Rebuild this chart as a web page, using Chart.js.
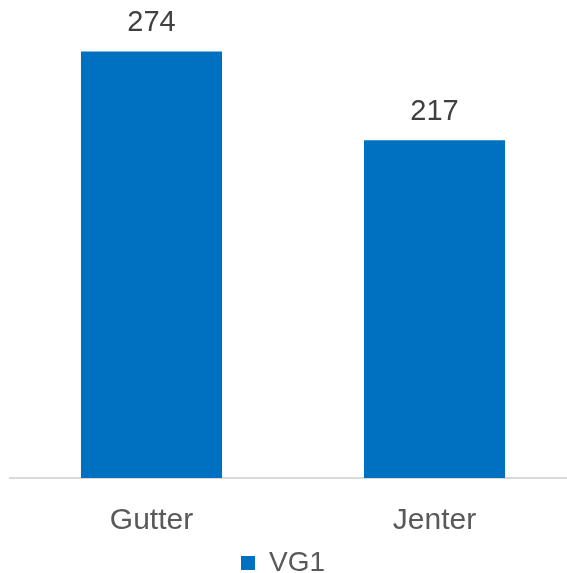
<!DOCTYPE html>
<html>
<head>
<meta charset="utf-8">
<script src="https://cdn.jsdelivr.net/npm/chart.js@4/dist/chart.umd.min.js"></script>
<style>
  html, body { margin: 0; padding: 0; background: #ffffff; overflow: hidden; }
  #wrap { width: 567px; height: 573px; overflow: hidden; position: relative; }
  #box { position: absolute; left: -10px; top: 0; width: 586px; height: 573px; }
</style>
</head>
<body>
<div id="wrap"><div id="box"><canvas id="c"></canvas></div></div>
<script>
const categories = ["Gutter", "Jenter"];
const seriesName = "VG1";
const seriesValues = [274, 217];
const yMax = 300;

const FONT = '"Liberation Sans", Arial, sans-serif';

const valueLabels = {
  id: 'valueLabels',
  afterDatasetsDraw(chart) {
    const ctx = chart.ctx;
    const meta = chart.getDatasetMeta(0);
    ctx.save();
    ctx.font = '29px ' + FONT;
    ctx.fillStyle = '#404040';
    ctx.textAlign = 'center';
    ctx.textBaseline = 'middle';
    meta.data.forEach((bar, i) => {
      ctx.fillText(String(chart.data.datasets[0].data[i]), bar.x, bar.y - 28);
    });
    ctx.restore();
  }
};

new Chart(document.getElementById('c'), {
  type: 'bar',
  data: {
    labels: categories,
    datasets: [{
      label: seriesName,
      data: seriesValues,
      backgroundColor: '#0070C0',
      borderWidth: 0,
      barPercentage: 1,
      categoryPercentage: 0.4985
    }]
  },
  options: {
    responsive: true,
    maintainAspectRatio: false,
    animation: false,
    layout: { padding: { top: 11, bottom: -14, left: 0, right: 0 } },
    scales: {
      x: {
        offset: true,
        grid: { display: false, drawTicks: false },
        border: { display: true, color: '#d9d9d9', width: 2 },
        ticks: { color: '#595959', font: { family: FONT, size: 30 }, padding: 25 },
        afterFit(scale) { scale.height = 57; }
      },
      y: {
        display: true,
        min: 0,
        max: yMax,
        grid: { display: false, drawTicks: false },
        border: { display: false },
        ticks: { display: false },
        afterFit(scale) { scale.width = 20; }
      }
    },
    plugins: {
      legend: {
        position: 'bottom',
        labels: {
          color: '#595959',
          font: { family: FONT, size: 28 },
          boxWidth: 14,
          boxHeight: 14,
          padding: 14
        }
      },
      tooltip: { enabled: false }
    }
  },
  plugins: [valueLabels]
});
</script>
</body>
</html>
